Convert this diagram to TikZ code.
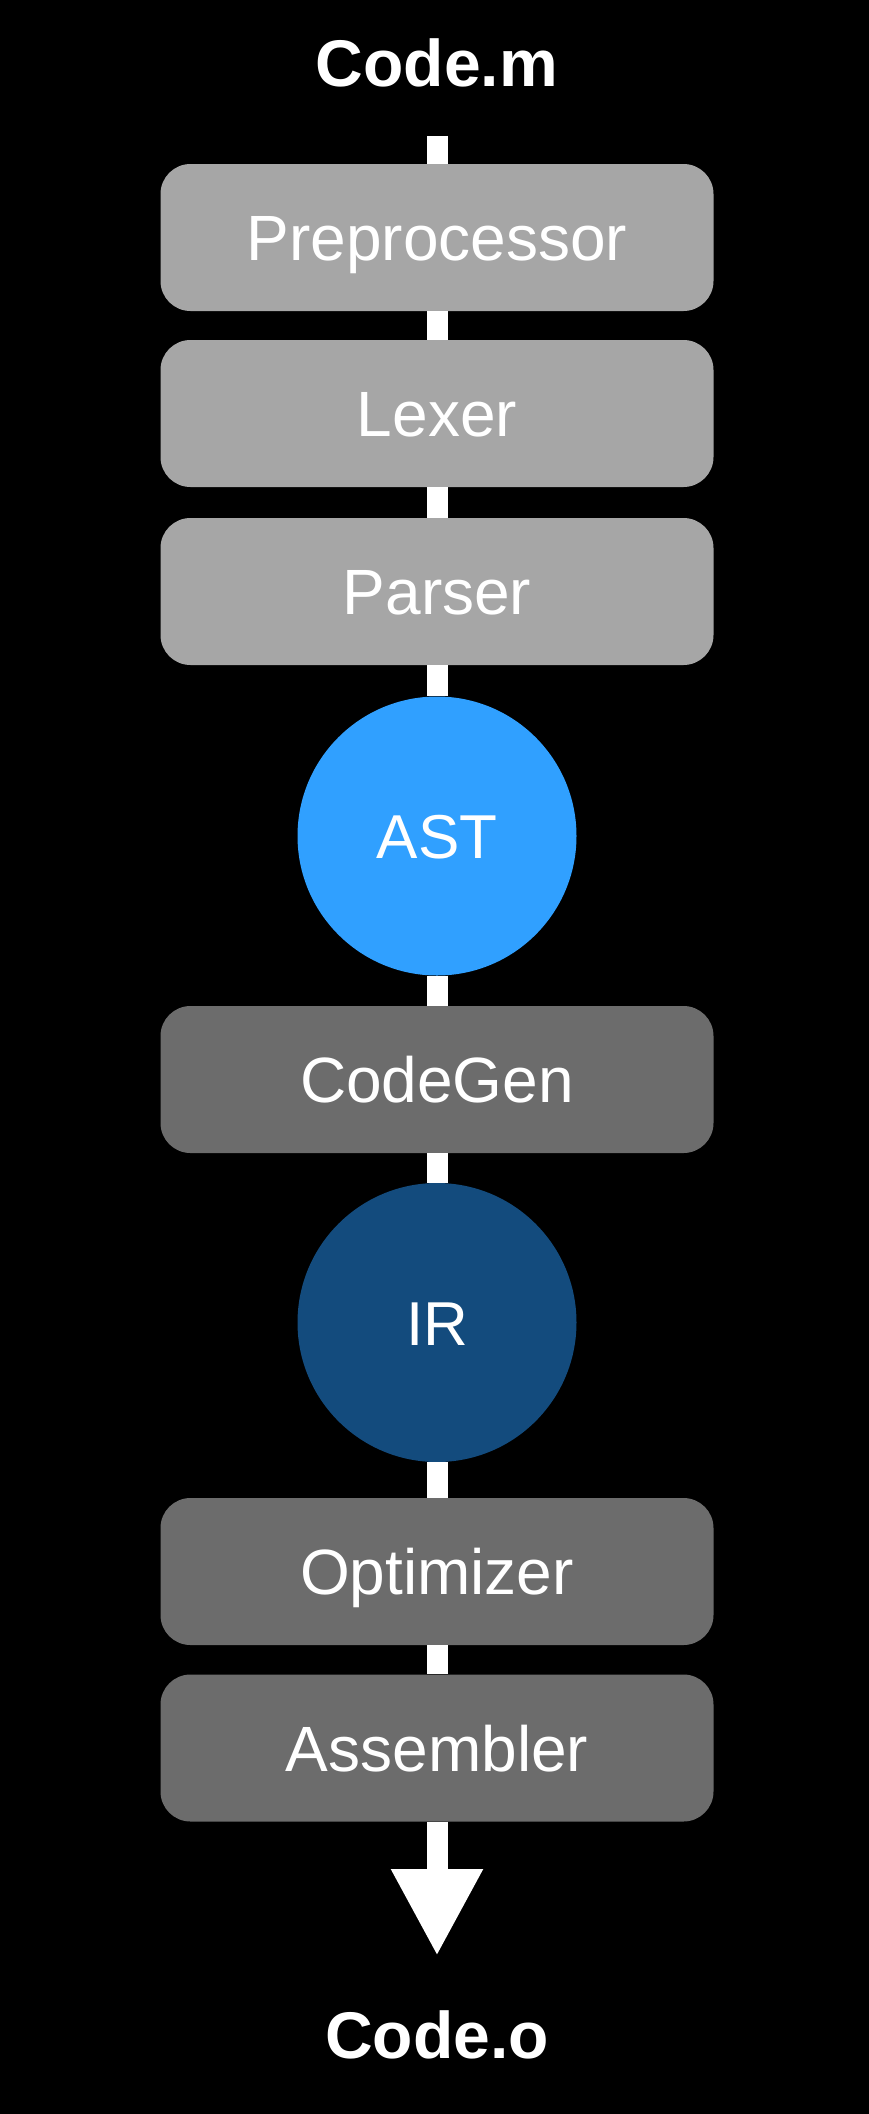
\documentclass[tikz,border=0pt]{standalone}
\usepackage{fontspec}
\setmainfont{Liberation Sans}
\usetikzlibrary{arrows.meta}
\definecolor{lightbox}{HTML}{A6A6A6}
\definecolor{darkbox}{HTML}{6C6C6C}
\definecolor{astblue}{HTML}{30A0FF}
\definecolor{irblue}{HTML}{134B7D}
\tikzset{
  stagebox/.style={rectangle, rounded corners=30pt, minimum width=553pt, minimum height=147pt, inner sep=0pt, text=white, font=\fontsize{64}{64}\selectfont, text height=46pt, text depth=0pt},
  lightstage/.style={stagebox, fill=lightbox},
  darkstage/.style={stagebox, fill=darkbox},
  blob/.style={circle, minimum size=279pt, inner sep=0pt, text=white, font=\fontsize{62}{62}\selectfont, text height=45pt, text depth=0pt},
  filelabel/.style={text=white, font=\bfseries\fontsize{66}{66}\selectfont},
  conn/.style={draw=white, line width=21pt},
}
\begin{document}
\begin{tikzpicture}[x=1pt,y=-1pt]
\useasboundingbox (0,0) rectangle (868,2114);
\fill[black] (-4,-4) rectangle (872,2118);
\node[filelabel] (codem) at (437,63) {Code.m};
\coordinate (start) at (437,136);
\coordinate (tip) at (437,1956);
\path (437,237.5) node[lightstage] (pre) {Preprocessor}
      (437,413.5) node[lightstage] (lex) {Lexer}
      (437,591.5) node[lightstage] (par) {Parser}
      (437,836) node[blob, fill=astblue] (ast) {AST}
      (437,1079.5) node[darkstage] (cg) {CodeGen}
      (437,1322.5) node[blob, fill=irblue] (ir) {IR}
      (437,1571.5) node[darkstage] (opt) {Optimizer}
      (437,1748) node[darkstage] (asm) {Assembler};
\draw[conn] (start) -- (pre.north);
\draw[conn] (pre.south) -- (lex.north);
\draw[conn] (lex.south) -- (par.north);
\draw[conn] (par.south) -- (ast.north);
\draw[conn] (ast.south) -- (cg.north);
\draw[conn] (cg.south) -- (ir.north);
\draw[conn] (ir.south) -- (opt.north);
\draw[conn] (opt.south) -- (asm.north);
\draw[conn, -{Triangle[width=86pt,length=87pt]}, white] (asm.south) -- (tip);
\node[filelabel] (codeo) at (437,2035) {Code.o};
\end{tikzpicture}
\end{document}
